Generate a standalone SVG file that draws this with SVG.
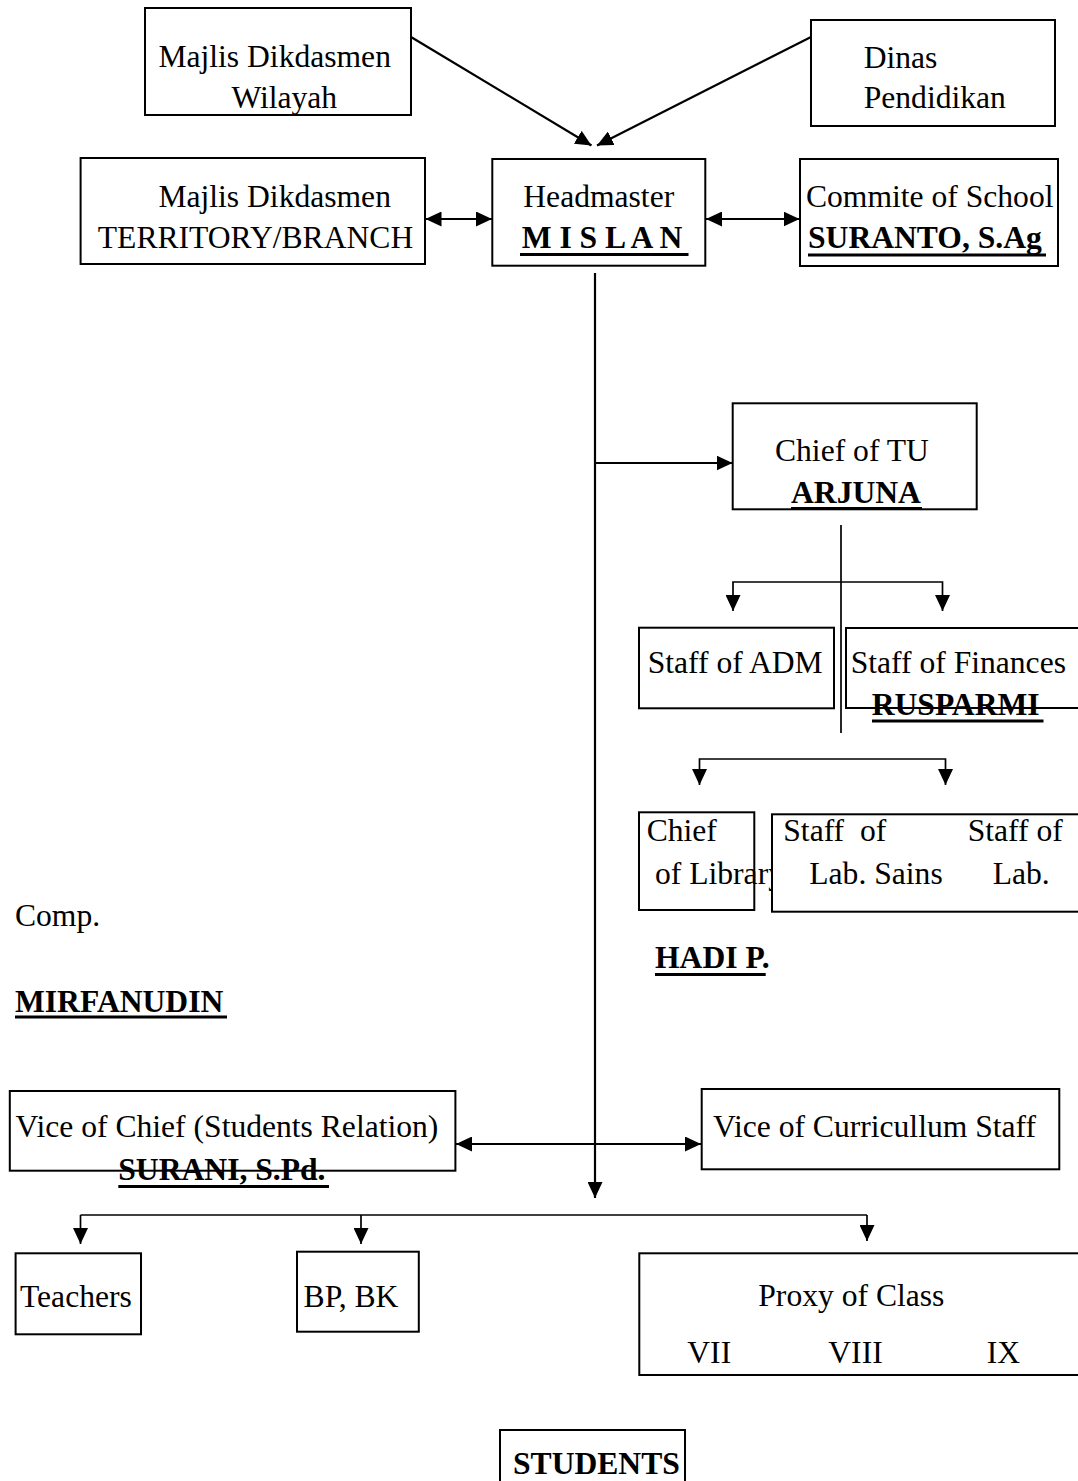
<svg xmlns="http://www.w3.org/2000/svg" width="1078" height="1481" viewBox="0 0 1078 1481">
<defs>
<style>
text{font-family:"Liberation Serif","Times New Roman",serif;font-size:31.6px;fill:#000}
.b{font-weight:bold}
.box{fill:#fff;stroke:#000;stroke-width:2}
.ul{stroke:#000;stroke-width:3}
.c{fill:none;stroke:#000;stroke-width:2.2}
.t{fill:none;stroke:#000;stroke-width:1.7}
</style>
<marker id="ah" viewBox="0 0 16 15" refX="16" refY="7.5" markerWidth="16" markerHeight="15" markerUnits="userSpaceOnUse" orient="auto-start-reverse">
<path d="M0,0 L16,7.5 L0,15 z" fill="#000"/>
</marker>
</defs>
<rect width="1078" height="1481" fill="#fff"/>

<g id="connectors">
<line class="c" x1="411" y1="37" x2="591.5" y2="145.5" marker-end="url(#ah)"/>
<line class="c" x1="811" y1="37" x2="597" y2="145.5" marker-end="url(#ah)"/>
<line class="c" x1="425.5" y1="219" x2="492" y2="219" marker-start="url(#ah)" marker-end="url(#ah)"/>
<line class="c" x1="706" y1="219" x2="799.5" y2="219" marker-start="url(#ah)" marker-end="url(#ah)"/>
<line class="c" x1="595" y1="273" x2="595" y2="1198" marker-end="url(#ah)"/>
<line class="c" x1="595" y1="463" x2="732.5" y2="463" marker-end="url(#ah)"/>
<line class="t" x1="841" y1="525" x2="841" y2="733"/>
<path class="t" d="M733,611 V582 H942.5 V611" marker-start="url(#ah)" marker-end="url(#ah)"/>
<path class="t" d="M699.5,785 V759 H945.5 V785" marker-start="url(#ah)" marker-end="url(#ah)"/>
<line class="c" x1="456" y1="1144" x2="701" y2="1144" marker-start="url(#ah)" marker-end="url(#ah)"/>
<line class="t" x1="80.5" y1="1215" x2="867" y2="1215"/>
<line class="t" x1="80.5" y1="1215" x2="80.5" y2="1244" marker-end="url(#ah)"/>
<line class="t" x1="361" y1="1215" x2="361" y2="1244" marker-end="url(#ah)"/>
<line class="t" x1="867" y1="1215" x2="867" y2="1241" marker-end="url(#ah)"/>
</g>

<g id="wilayah">
<rect class="box" x="145" y="8" width="266" height="107"/>
<text x="158.4" y="66.7">Majlis Dikdasmen</text>
<text x="231.4" y="108">Wilayah</text>
</g>

<g id="dinas">
<rect class="box" x="811" y="20" width="244" height="106"/>
<text x="863.7" y="68.3">Dinas</text>
<text x="863.7" y="108.3">Pendidikan</text>
</g>

<g id="territory">
<rect class="box" x="80.6" y="158" width="344.4" height="106"/>
<text x="158.4" y="207">Majlis Dikdasmen</text>
<text x="97.8" y="248">TERRITORY/BRANCH</text>
</g>

<g id="headmaster">
<rect class="box" x="492.3" y="159" width="213" height="106.7"/>
<text x="523.3" y="206.7">Headmaster</text>
<text class="b" x="521.7" y="248.3">M I S L A N</text>
<line class="ul" x1="520" y1="254.5" x2="688.5" y2="254.5"/>
</g>

<g id="commite">
<rect class="box" x="800" y="159" width="258" height="107"/>
<text x="806" y="207">Commite of School</text>
<text class="b" x="808" y="248">SURANTO, S.Ag</text>
<line class="ul" x1="808" y1="255" x2="1046" y2="255"/>
</g>

<g id="chief-tu">
<rect class="box" x="732.7" y="403.3" width="244" height="106"/>
<text x="775" y="460.7">Chief of TU</text>
<text class="b" x="791" y="503">ARJUNA</text>
<line class="ul" x1="791" y1="508.5" x2="922" y2="508.5"/>
</g>

<g id="staff-adm">
<rect class="box" x="639" y="627.7" width="195" height="80.6"/>
<text x="647.7" y="673.3">Staff of ADM</text>
</g>

<g id="staff-finances">
<rect class="box" x="846" y="628" width="240" height="80"/>
<text x="850.7" y="673.3">Staff of Finances</text>
<text class="b" x="871.7" y="715">RUSPARMI</text>
<line class="ul" x1="872" y1="721" x2="1043.5" y2="721"/>
</g>

<g id="chief-library">
<rect class="box" x="639" y="812.3" width="115.3" height="97.7"/>
<text x="646.7" y="840.7">Chief</text>
<text x="655" y="884">of Library</text>
</g>

<g id="staff-lab">
<rect class="box" x="772" y="814.3" width="314" height="97.4"/>
<text x="783.3" y="840.7" xml:space="preserve">Staff  of</text>
<text x="967.7" y="840.7">Staff of</text>
<text x="809.3" y="884">Lab. Sains</text>
<text x="992.7" y="884">Lab.</text>
</g>

<g id="hadi">
<text class="b" x="655" y="968.3">HADI P.</text>
<line class="ul" x1="655" y1="974.5" x2="765.7" y2="974.5"/>
</g>

<g id="comp">
<text x="15" y="926">Comp.</text>
<text class="b" x="15" y="1011.7">MIRFANUDIN</text>
<line class="ul" x1="15" y1="1017" x2="227" y2="1017"/>
</g>

<g id="vice-chief">
<rect class="box" x="9.8" y="1091" width="445.6" height="79.7"/>
<text x="15.6" y="1137.3">Vice of Chief (Students Relation)</text>
<text class="b" x="118.3" y="1180">SURANI, S.Pd.</text>
<line class="ul" x1="118.3" y1="1186.5" x2="329" y2="1186.5"/>
</g>

<g id="vice-curriculum">
<rect class="box" x="701.7" y="1089" width="357.6" height="80.3"/>
<text x="713" y="1136.7">Vice of Curricullum Staff</text>
</g>

<g id="teachers">
<rect class="box" x="15.6" y="1253.3" width="125.4" height="81"/>
<text x="20" y="1306.7">Teachers</text>
</g>

<g id="bpbk">
<rect class="box" x="297" y="1251.7" width="121.8" height="80"/>
<text x="303.6" y="1306.7">BP, BK</text>
</g>

<g id="proxy">
<rect class="box" x="639.3" y="1253.3" width="450" height="121.7"/>
<text x="758.3" y="1306">Proxy of Class</text>
<text x="687.3" y="1362.7">VII</text>
<text x="828.3" y="1362.7">VIII</text>
<text x="986.7" y="1362.7">IX</text>
</g>

<g id="students">
<rect class="box" x="500" y="1430" width="185" height="70"/>
<text class="b" x="513" y="1474">STUDENTS</text>
</g>
</svg>
